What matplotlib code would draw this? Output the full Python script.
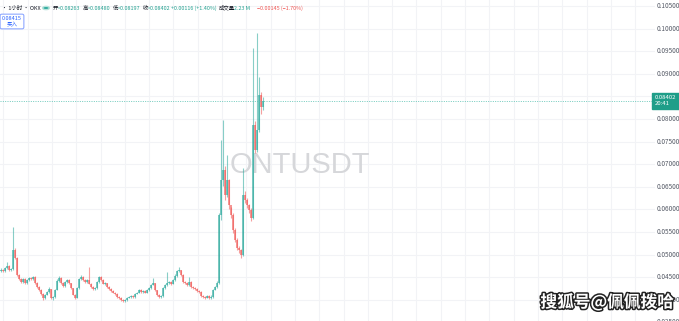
import matplotlib
matplotlib.use("Agg")
import matplotlib.pyplot as plt
import matplotlib.patheffects as pe
import numpy as np

plt.rcParams['font.family'] = ['Noto Sans CJK SC', 'DejaVu Sans']

# ---------------- data ----------------
first_open = 0.04640
closes = [0.04659, 0.04637, 0.04704, 0.04748, 0.04659, 0.04681, 0.05102, 0.04925, 0.04549, 0.04460,
          0.04394, 0.04460, 0.04372, 0.04438, 0.04482, 0.04460, 0.04505, 0.04372, 0.04283, 0.04217,
          0.04129, 0.04040, 0.04106, 0.04173, 0.04239, 0.04040, 0.04062, 0.04217, 0.04416, 0.04482,
          0.04372, 0.04306, 0.04394, 0.04438, 0.04372, 0.04261, 0.04106, 0.04040, 0.04261, 0.04460,
          0.04505, 0.04438, 0.04394, 0.04438, 0.04350, 0.04283, 0.04239, 0.04261, 0.04394, 0.04505,
          0.04438, 0.04350, 0.04372, 0.04283, 0.04239, 0.04195, 0.04151, 0.04129, 0.04062, 0.04040,
          0.03996, 0.03974, 0.03996, 0.04040, 0.04062, 0.04084, 0.04062, 0.04129, 0.04151, 0.04217,
          0.04173, 0.04195, 0.04151, 0.04217, 0.04261, 0.04328, 0.04372, 0.04217, 0.04106, 0.04062,
          0.04084, 0.04261, 0.04328, 0.04372, 0.04394, 0.04350, 0.04438, 0.04527, 0.04637, 0.04659,
          0.04549, 0.04394, 0.04372, 0.04328, 0.04394, 0.04283, 0.04261, 0.04239, 0.04195, 0.04173,
          0.04084, 0.04062, 0.04040, 0.04084, 0.04040, 0.04062, 0.04217, 0.04283, 0.04372, 0.05876,
          0.06650, 0.06872, 0.06319, 0.06650, 0.06097, 0.05876, 0.05544, 0.05323, 0.05146, 0.05102,
          0.04991, 0.06319, 0.06208, 0.06097, 0.05987, 0.05810, 0.07867, 0.07314, 0.07757, 0.08531,
          0.08263, 0.08402]
highs = [0.0470, 0.0468, 0.0473, 0.0484, 0.0477, 0.0471, 0.0562, 0.0515, 0.0495, 0.0458,
         0.0449, 0.0449, 0.0448, 0.0446, 0.0451, 0.0450, 0.0453, 0.0452, 0.0439, 0.0430,
         0.0423, 0.0414, 0.0412, 0.0420, 0.0428, 0.0425, 0.0409, 0.0424, 0.0446, 0.0452,
         0.0450, 0.0439, 0.0442, 0.0447, 0.0445, 0.0438, 0.0427, 0.0412, 0.0428, 0.0449,
         0.0454, 0.0452, 0.0446, 0.0446, 0.0473, 0.0437, 0.0430, 0.0429, 0.0442, 0.0453,
         0.0452, 0.0445, 0.0440, 0.0438, 0.0430, 0.0426, 0.0421, 0.0417, 0.0414, 0.0408,
         0.0406, 0.0401, 0.0402, 0.0406, 0.0409, 0.0411, 0.0410, 0.0415, 0.0418, 0.0424,
         0.0423, 0.0422, 0.0421, 0.0424, 0.0429, 0.0436, 0.0448, 0.0438, 0.0422, 0.0412,
         0.0411, 0.0429, 0.0436, 0.0461, 0.0442, 0.0441, 0.0447, 0.0456, 0.0467, 0.0472,
         0.0467, 0.0456, 0.0441, 0.0439, 0.0451, 0.0441, 0.0430, 0.0428, 0.0426, 0.0421,
         0.0419, 0.0410, 0.0408, 0.0411, 0.0410, 0.0410, 0.0424, 0.0431, 0.0442, 0.0592,
         0.0753, 0.0798, 0.0695, 0.0720, 0.0668, 0.0605, 0.0592, 0.0558, 0.0536, 0.0520,
         0.0513, 0.0692, 0.0640, 0.0625, 0.0612, 0.0602, 0.0957, 0.0795, 0.0990, 0.0893,
         0.0860, 0.08480]
lows = [0.0462, 0.0461, 0.0462, 0.0469, 0.0464, 0.0463, 0.0466, 0.0490, 0.0452, 0.0443,
        0.0437, 0.0438, 0.0435, 0.0436, 0.0442, 0.0444, 0.0444, 0.0435, 0.0426, 0.0420,
        0.0411, 0.0400, 0.0402, 0.0410, 0.0416, 0.0401, 0.0400, 0.0405, 0.0421, 0.0440,
        0.0436, 0.0429, 0.0429, 0.0438, 0.0436, 0.0425, 0.0410, 0.0401, 0.0403, 0.0425,
        0.0444, 0.0442, 0.0438, 0.0438, 0.0434, 0.0427, 0.0422, 0.0422, 0.0425, 0.0438,
        0.0442, 0.0434, 0.0433, 0.0427, 0.0422, 0.0418, 0.0414, 0.0411, 0.0405, 0.0402,
        0.0398, 0.0395, 0.0396, 0.0398, 0.0403, 0.0405, 0.0404, 0.0405, 0.0412, 0.0414,
        0.0416, 0.0416, 0.0414, 0.0414, 0.0420, 0.0425, 0.0432, 0.0420, 0.0409, 0.0405,
        0.0404, 0.0407, 0.0425, 0.0431, 0.0435, 0.0433, 0.0434, 0.0442, 0.0451, 0.0462,
        0.0453, 0.0438, 0.0436, 0.0431, 0.0431, 0.0427, 0.0424, 0.0422, 0.0418, 0.0415,
        0.0407, 0.0404, 0.0402, 0.0403, 0.0402, 0.0402, 0.0405, 0.0421, 0.0427, 0.0436,
        0.0577, 0.0652, 0.0620, 0.0628, 0.0600, 0.0580, 0.0548, 0.0527, 0.0510, 0.0504,
        0.0492, 0.0497, 0.0615, 0.0603, 0.0592, 0.0575, 0.0578, 0.0725, 0.0728, 0.0772,
        0.0812, 0.08197]

price_ticks = [0.105, 0.100, 0.095, 0.090, 0.085, 0.080, 0.075, 0.070, 0.065,
               0.060, 0.055, 0.050, 0.045, 0.040, 0.035]
last_price = 0.08402
last_time = "20:41"
buy_price = "0.08415"
symbol = "ONTUSDT"
hdr_labels = ["开", "高", "低", "收"]
hdr_values = ["=0.08263", "=0.08480", "=0.08197", "=0.08402"]
change_text = "+0.00116 (+1.40%)"
vol_label, vol_value = "成交量", "2.23 M"
vol_change = "−0.00145 (−1.70%)"

# ---------------- figure ----------------
W, H = 679, 321
fig = plt.figure(figsize=(W / 100, H / 100), dpi=100)
fig.patch.set_facecolor('white')
ax = fig.add_axes([0, 0, 655 / W, 1])
ax.set_facecolor('white')
for s in ax.spines.values():
    s.set_visible(False)
ax.set_xticks([])
ax.set_yticks([])

ytop = 0.105 + 6 * 0.005 / 22.6
ybot = 0.105 - 315 * 0.005 / 22.6
ax.set_ylim(ybot, ytop)
ax.set_xlim(-0.5, 327.0)

# grid
for t in price_ticks:
    ax.axhline(t, color='#f2f3f6', lw=0.8, zorder=0)
for k in range(27):
    xp = 3.3 + 24.3 * k
    ax.axvline(xp / 2 - 0.5, color='#f2f3f6', lw=0.8, zorder=0)

# watermark symbol
ax.text(299.5 / 655, 1 - 165 / H, symbol, transform=ax.transAxes, ha='center', va='center',
        fontsize=21, color='#d6d7da', family='Liberation Sans', zorder=1)

# candles
closes_a = np.array(closes)
opens_a = np.concatenate([[first_open], closes_a[:-1]])
idx = np.arange(len(closes_a))
up = closes_a >= opens_a
col_up, col_dn = '#26a69a', '#ef5350'
colors = np.where(up, col_up, col_dn)
ax.vlines(idx, lows, highs, colors=colors, lw=0.8, alpha=0.55, zorder=2)
ax.bar(idx, np.abs(closes_a - opens_a) + 0.00006, bottom=np.minimum(opens_a, closes_a),
       width=0.7, color=colors, alpha=0.6, lw=0, zorder=3)

# last price line
ax.axhline(last_price, color='#5cc2b3', lw=0.6, ls=(0, (1.2, 1.6)), zorder=4)

# price axis labels
ytr = ax.get_yaxis_transform()
for t in price_ticks:
    ax.text(1.003, t, f"{t:.5f}", transform=ytr, ha='left', va='center',
            fontsize=4.6, color='#555a66', clip_on=False)
ax.text(1.0, last_price, f"{last_price:.5f}\n{last_time}", transform=ytr, ha='left', va='center',
        fontsize=4.3, color='white', linespacing=1.2, clip_on=False, zorder=10,
        bbox=dict(boxstyle='square,pad=0.45', fc='#1f9e89', ec='#1f9e89'))

# header legend
FS = 3.9
def ft(xp, yp, s, c, **kw):
    fig.text(xp / W, 1 - yp / H, s, color=c, fontsize=FS, va='center', ha='left', **kw)

yh = 8
grn = '#22a08f'
red = '#ef5350'
dark = '#131722'
ft(-1, yh, "' · 1小时 · OKX", dark)
fig.patches.append(plt.Circle((46 / W, 1 - yh / H), 0.005, transform=fig.transFigure,
                              fc='#26a69a', ec='#b9e4dc', lw=1.0))
for k, (lab, val) in enumerate(zip(hdr_labels, hdr_values)):
    x0 = 53 + 30 * k
    ft(x0, yh, lab, dark)
    ft(x0 + 5, yh, val, grn)
ft(171, yh, change_text, grn)
ft(219, yh, vol_label, dark)
ft(234, yh, vol_value, grn)
ft(257, yh, vol_change, red)

# buy box
fig.text(12 / W, 1 - 21.5 / H, f"{buy_price}\n买入", color='#2962ff', fontsize=4.0,
         ha='center', va='center', linespacing=1.15,
         bbox=dict(boxstyle='round,pad=0.35,rounding_size=0.3', fc='white', ec='#7f9cff', lw=0.7))

# bottom-right watermark
fig.text(607 / W, 1 - 302 / H, "搜狐号@佩佩拨哈", color='white', fontsize=12, weight='bold',
         ha='center', va='center',
         path_effects=[pe.withStroke(linewidth=2.2, foreground='#222222')])

fig.savefig('out.png', dpi=100, facecolor='white')
